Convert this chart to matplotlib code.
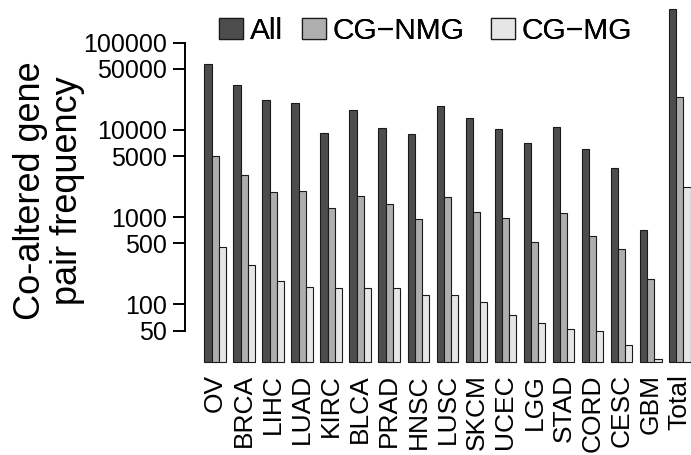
import numpy as np
import matplotlib
matplotlib.use("Agg")
import matplotlib.pyplot as plt
from matplotlib.patches import Patch

plt.rcParams["font.family"] = ["Liberation Sans", "DejaVu Sans"]

categories = ["OV", "BRCA", "LIHC", "LUAD", "KIRC", "BLCA", "PRAD", "HNSC",
              "LUSC", "SKCM", "UCEC", "LGG", "STAD", "CORD", "CESC", "GBM",
              "Total"]
all_pairs = [57400, 32300, 21900, 20400, 9240, 16980, 10620, 9060,
             19000, 13740, 10350, 7150, 10720, 6100, 3660, 710, 246000]
cg_nmg = [4980, 3040, 1920, 1970, 1260, 1760, 1410, 950,
          1710, 1160, 975, 525, 1120, 610, 436, 194, 24150]
cg_mg = [452, 283, 184, 157, 154, 153, 154, 130,
         130, 106, 76, 61, 52, 49, 34, 24, 2213]

series_names = ["All", "CG\u2212NMG", "CG\u2212MG"]
series_values = [all_pairs, cg_nmg, cg_mg]
series_colors = ["#4D4D4D", "#AEAEAE", "#E6E6E6"]

yticks = [50, 100, 500, 1000, 5000, 10000, 50000, 100000]

W, H, DPI = 691, 455, 100
fig = plt.figure(figsize=(W / DPI, H / DPI), dpi=DPI)

# plot region in pixels (extends slightly past the right edge)
left_px, right_px = 184.85, 710.0
bottom_px, top_px = 361.7, 0.0
ax = fig.add_axes([left_px / W, (H - bottom_px) / H,
                   (right_px - left_px) / W, (bottom_px - top_px) / H])

ax.set_yscale("log")
base = 10 ** 1.344
ax.set_ylim(base, 10 ** 5.489)
ax.set_xlim(-1.68, 70.68)

n = len(categories)
group_left = 1 + 4 * np.arange(n)
for j, (vals, col) in enumerate(zip(series_values, series_colors)):
    vals = np.asarray(vals, dtype=float)
    ax.bar(group_left + j + 0.5, vals - base, bottom=base, width=1.0,
           color=col, edgecolor="#1a1a1a", linewidth=0.8, clip_on=False,
           zorder=2)

# y axis in base-graphics style: line only between the outer ticks
for s in ["top", "right", "bottom"]:
    ax.spines[s].set_visible(False)
ax.spines["left"].set_bounds(yticks[0], yticks[-1])
ax.spines["left"].set_linewidth(1.4)
ax.set_yticks(yticks)
ax.set_yticklabels([str(t) for t in yticks])
ax.yaxis.set_minor_locator(matplotlib.ticker.NullLocator())
ax.tick_params(axis="y", direction="out", length=8.3, width=1.4, pad=4.5,
               labelsize=18)

ax.set_xticks(group_left + 1.5)
ax.set_xticklabels(categories, rotation=90)
ax.tick_params(axis="x", length=0, pad=9, labelsize=19)

fig.text(49 / W, 1 - 191 / H, "Co-altered gene\npair frequency",
         rotation=90, ha="center", va="center", fontsize=26,
         linespacing=1.05)

# legend entries placed along the top
legend_x = [219.3, 301.7, 491.0]
fs = 21.5
em = fs / 72 * DPI
for name, col, xpx in zip(series_names, series_colors, legend_x):
    leg = fig.legend(handles=[Patch(facecolor=col, edgecolor="#1a1a1a",
                                    linewidth=0.9)],
                     labels=[name], loc="center left",
                     bbox_to_anchor=(xpx / W, 1 - 31.2 / H),
                     frameon=False, fontsize=fs, borderpad=0,
                     borderaxespad=0, handlelength=24 / em,
                     handleheight=21 / em, handletextpad=6.7 / em)
    fig.add_artist(leg)

fig.savefig("out.png", dpi=DPI)
